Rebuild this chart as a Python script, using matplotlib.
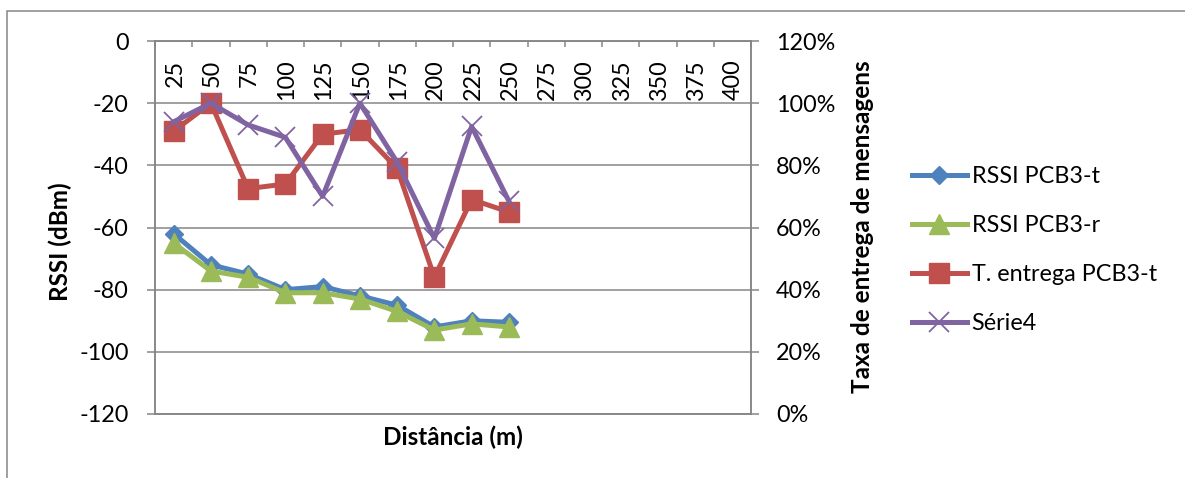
import matplotlib.pyplot as plt
from matplotlib.patches import Rectangle
from matplotlib.ticker import FuncFormatter

# distances (m) on the category axis
distancias = ['25', '50', '75', '100', '125', '150', '175', '200',
              '225', '250', '275', '300', '325', '350', '375', '400']

# RSSI readings (dBm), only the first ten distances were measured
rssi_t = [-62, -72, -75, -80, -79, -82, -85, -92, -90, -90.5]
rssi_r = [-65, -74, -76, -81, -81, -83, -87, -93, -91, -92]

# message delivery rate (fraction)
entrega_t = [0.91, 1.00, 0.725, 0.74, 0.90, 0.915, 0.79, 0.44, 0.69, 0.65]
serie4 = [0.94, 1.00, 0.93, 0.89, 0.70, 1.00, 0.81, 0.565, 0.925, 0.685]

plt.rcParams['font.family'] = ['Lato', 'DejaVu Sans']
plt.rcParams['font.size'] = 16.8
plt.rcParams['axes.unicode_minus'] = False

W, H = 1185, 478
fig = plt.figure(figsize=(W / 100, H / 100), dpi=100)
grey = '#868686'

ax = fig.add_axes([155 / W, 1 - 414 / H, (751 - 155) / W, (414 - 41) / H])
ax2 = ax.twinx()

xs = [i + 0.5 for i in range(len(rssi_t))]
lw = 3.6

l1, = ax.plot(xs, rssi_t, color='#4F81BD', lw=lw, marker='D', ms=9,
              solid_joinstyle='round', label='RSSI PCB3-t', zorder=3)
l2, = ax.plot(xs, rssi_r, color='#9BBB59', lw=lw, marker='^', ms=14,
              solid_joinstyle='round', label='RSSI PCB3-r', zorder=4)
l3, = ax2.plot(xs, entrega_t, color='#C0504D', lw=lw, marker='s', ms=14,
               solid_joinstyle='round', label='T. entrega PCB3-t', zorder=3)
l4, = ax2.plot(xs, serie4, color='#8064A2', lw=lw, marker='x', ms=14,
               mew=1.3, solid_joinstyle='round', label='Série4', zorder=4)

# left axis
ax.set_xlim(0, len(distancias))
ax.set_ylim(-120, 0)
ax.set_yticks(range(-120, 1, 20))
ax.yaxis.grid(True, color=grey, lw=1.1)
ax.set_axisbelow(True)
ax.tick_params(axis='y', direction='out', length=6, width=1.1, color=grey, pad=13)

# category axis sits on the top edge (value 0)
ax.xaxis.tick_top()
ax.set_xticks(range(len(distancias) + 1))
ax.set_xticklabels([])
ax.tick_params(axis='x', direction='in', length=4.5, width=1.1, color=grey)
for i, d in enumerate(distancias):
    ax.annotate(d, xy=(i + 0.5, 1), xycoords=('data', 'axes fraction'),
                xytext=(1, -13.5), textcoords='offset points',
                rotation=90, ha='center', va='top')

# right axis
ax2.set_ylim(0, 1.2)
ax2.set_yticks([0, 0.2, 0.4, 0.6, 0.8, 1.0, 1.2])
ax2.yaxis.set_major_formatter(FuncFormatter(lambda v, p: f'{v * 100:.0f}%'))
ax2.tick_params(axis='y', direction='out', length=6, width=1.1, color=grey, pad=12)

for a in (ax, ax2):
    for s in a.spines.values():
        s.set_color(grey)
        s.set_linewidth(1.1)

fig.text(60 / W, 1 - 242 / H, 'RSSI (dBm)', rotation=90, fontweight='bold',
         fontsize=17.5, ha='center', va='center')
fig.text(862 / W, 1 - 227 / H, 'Taxa de entrega de mensagens', rotation=90,
         fontweight='bold', fontsize=17.5, ha='center', va='center')
fig.text(453 / W, 1 - 437 / H, 'Distância (m)', fontweight='bold',
         fontsize=17.5, ha='center', va='center')

fig.legend([l1, l2, l3, l4], [l.get_label() for l in (l1, l2, l3, l4)],
           loc='upper left', bbox_to_anchor=(912 / W, 1 - 166 / H),
           frameon=False, borderpad=0, borderaxespad=0, handlelength=2.35,
           handletextpad=0.2, labelspacing=1.2, numpoints=1)

# chart border
fig.add_artist(Rectangle((7 / W, -0.1), 2, 1 - 11 / H + 0.1,
                         transform=fig.transFigure, fill=False,
                         edgecolor=grey, lw=1.1))

fig.savefig('out.png', dpi=100)
